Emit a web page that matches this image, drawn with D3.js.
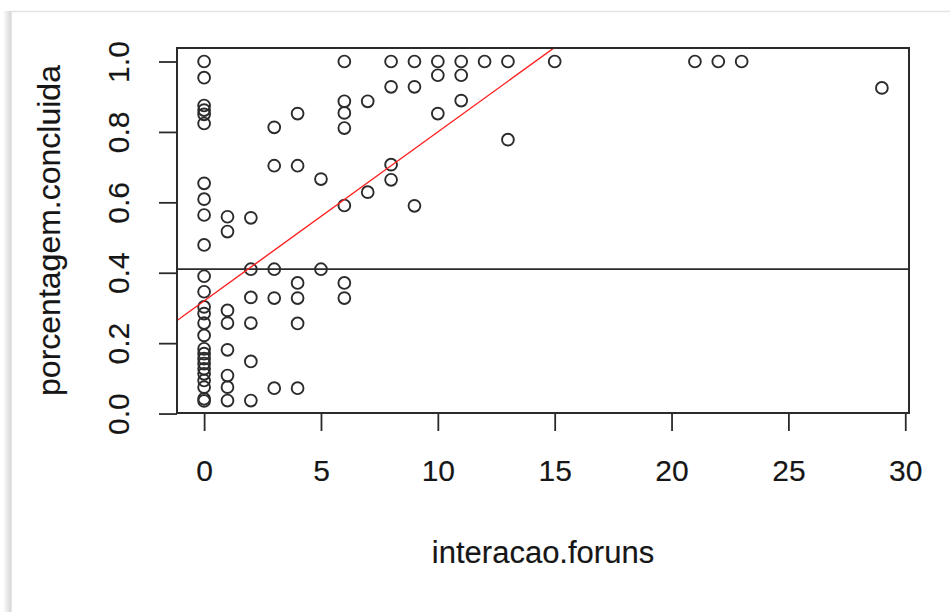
<!DOCTYPE html>
<html>
<head>
<meta charset="utf-8">
<script src="https://cdn.jsdelivr.net/npm/d3@7"></script>
<style>
  body { margin: 0; background: #fff; }
  svg { display: block; font-family: "Liberation Sans", Arial, sans-serif; }
</style>
</head>
<body>
<div id="chart"></div>
<script>
// global const
const width = 950, height = 612;
const plot = { left: 177, right: 909, top: 48, bottom: 413 };

// data
const foruns = [
  0, 0, 0, 0, 0, 0, 0, 0, 0, 0, 0, 0, 0, 0, 0, 0, 0, 0, 0, 0, 0, 0, 0, 0, 0, 0,
  1, 1, 1, 1, 1, 1, 1, 1,
  2, 2, 2, 2, 2, 2,
  3, 3, 3, 3, 3,
  4, 4, 4, 4, 4, 4,
  5, 5,
  6, 6, 6, 6, 6, 6, 6,
  7, 7,
  8, 8, 8, 8,
  9, 9, 9,
  10, 10, 10,
  11, 11, 11,
  12,
  13, 13,
  15,
  21, 22, 23, 29
];
const porcentagem = [
  1.0, 0.954, 0.875, 0.862, 0.85, 0.824, 0.654, 0.609, 0.564, 0.479, 0.39, 0.346, 0.303,
  0.284, 0.257, 0.222, 0.184, 0.170, 0.156, 0.142, 0.127, 0.113, 0.094, 0.075, 0.042, 0.036,
  0.559, 0.517, 0.293, 0.257, 0.181, 0.108, 0.075, 0.037,
  0.556, 0.41, 0.33, 0.257, 0.148, 0.037,
  0.813, 0.704, 0.41, 0.328, 0.072,
  0.852, 0.704, 0.371, 0.328, 0.256, 0.072,
  0.666, 0.41,
  1.0, 0.887, 0.854, 0.811, 0.591, 0.371, 0.328,
  0.887, 0.629,
  1.0, 0.928, 0.707, 0.664,
  1.0, 0.928, 0.59,
  1.0, 0.961, 0.852,
  1.0, 0.961, 0.889,
  1.0,
  1.0, 0.778,
  1.0,
  1.0, 1.0, 1.0, 0.925
];
const xTicks = [0, 5, 10, 15, 20, 25, 30];
const yTicks = [0.0, 0.2, 0.4, 0.6, 0.8, 1.0];
const lmCoef = { intercept: 0.32, slope: 0.048 };   // red regression line
const hLineValue = 0.41;                            // black horizontal line

const svg = d3.select("#chart").append("svg")
  .attr("width", width)
  .attr("height", height);

// screenshot frame (light border + shadow on left)
const defs = svg.append("defs");
const shadow = defs.append("linearGradient").attr("id", "shadow");
shadow.append("stop").attr("offset", "0%").attr("stop-color", "#fff");
shadow.append("stop").attr("offset", "100%").attr("stop-color", "#d6d6d6");
svg.append("rect").attr("x", 3).attr("y", 11).attr("width", 8).attr("height", height - 11)
  .attr("fill", "url(#shadow)");
svg.append("line").attr("x1", 10).attr("x2", width).attr("y1", 11.5).attr("y2", 11.5)
  .attr("stroke", "#e2e2e2").attr("stroke-width", 1.5);
svg.append("line").attr("x1", 11).attr("x2", 11).attr("y1", 11).attr("y2", height)
  .attr("stroke", "#dcdcdc").attr("stroke-width", 1.5);

// scales (R style 4% extension)
const x = d3.scaleLinear().domain([-1.16, 30.16]).range([plot.left, plot.right]);
const y = d3.scaleLinear().domain([0.0016, 1.0384]).range([plot.bottom, plot.top]);

const ink = "#2b2b2b";
const textInk = "#161616";

// clip for lines
defs.append("clipPath").attr("id", "plotclip").append("rect")
  .attr("x", plot.left).attr("y", plot.top)
  .attr("width", plot.right - plot.left).attr("height", plot.bottom - plot.top);

// points
svg.append("g").selectAll("circle")
  .data(d3.range(foruns.length))
  .join("circle")
  .attr("cx", i => x(foruns[i]))
  .attr("cy", i => y(porcentagem[i]))
  .attr("r", 5.9)
  .attr("fill", "none")
  .attr("stroke", ink)
  .attr("stroke-width", 1.9);

// horizontal line
svg.append("line")
  .attr("x1", plot.left).attr("x2", plot.right)
  .attr("y1", y(hLineValue)).attr("y2", y(hLineValue))
  .attr("stroke", ink).attr("stroke-width", 1.8);

// regression line
const xd = x.domain();
svg.append("line")
  .attr("clip-path", "url(#plotclip)")
  .attr("x1", x(xd[0])).attr("y1", y(lmCoef.intercept + lmCoef.slope * xd[0]))
  .attr("x2", x(xd[1])).attr("y2", y(lmCoef.intercept + lmCoef.slope * xd[1]))
  .attr("stroke", "#ff2020").attr("stroke-width", 1.4);

// box
svg.append("rect")
  .attr("x", plot.left).attr("y", plot.top)
  .attr("width", plot.right - plot.left).attr("height", plot.bottom - plot.top)
  .attr("fill", "none").attr("stroke", ink).attr("stroke-width", 2);

// axes
const xAxis = svg.append("g")
  .attr("transform", `translate(0,${plot.bottom})`)
  .call(d3.axisBottom(x).tickValues(xTicks).tickSize(18).tickPadding(29).tickFormat(d3.format("d")));
const yAxis = svg.append("g")
  .attr("transform", `translate(${plot.left},0)`)
  .call(d3.axisLeft(y).tickValues(yTicks).tickSize(18).tickPadding(10).tickFormat(d3.format(".1f")));

[xAxis, yAxis].forEach(g => {
  g.select(".domain").remove();
  g.selectAll("line").attr("stroke", ink).attr("stroke-width", 1.8);
  g.selectAll("text")
    .attr("fill", textInk).attr("stroke", textInk).attr("stroke-width", 0.15)
    .attr("font-size", 30)
    .attr("font-family", "Liberation Sans, Arial, sans-serif");
});

// rotate y tick labels like R's default las=0
yAxis.selectAll(".tick text")
  .attr("text-anchor", "middle")
  .attr("dy", 0)
  .attr("x", 0)
  .attr("transform", "translate(-48,0) rotate(-90)");

// axis titles
svg.append("text")
  .attr("x", (plot.left + plot.right) / 2)
  .attr("y", 563)
  .attr("text-anchor", "middle")
  .attr("font-size", 31)
  .attr("fill", textInk).attr("stroke", textInk).attr("stroke-width", 0.15)
  .text("interacao.foruns");

svg.append("text")
  .attr("transform", `translate(60,${(plot.top + plot.bottom) / 2}) rotate(-90)`)
  .attr("text-anchor", "middle")
  .attr("font-size", 32)
  .attr("fill", textInk).attr("stroke", textInk).attr("stroke-width", 0.15)
  .text("porcentagem.concluida");
</script>
</body>
</html>
